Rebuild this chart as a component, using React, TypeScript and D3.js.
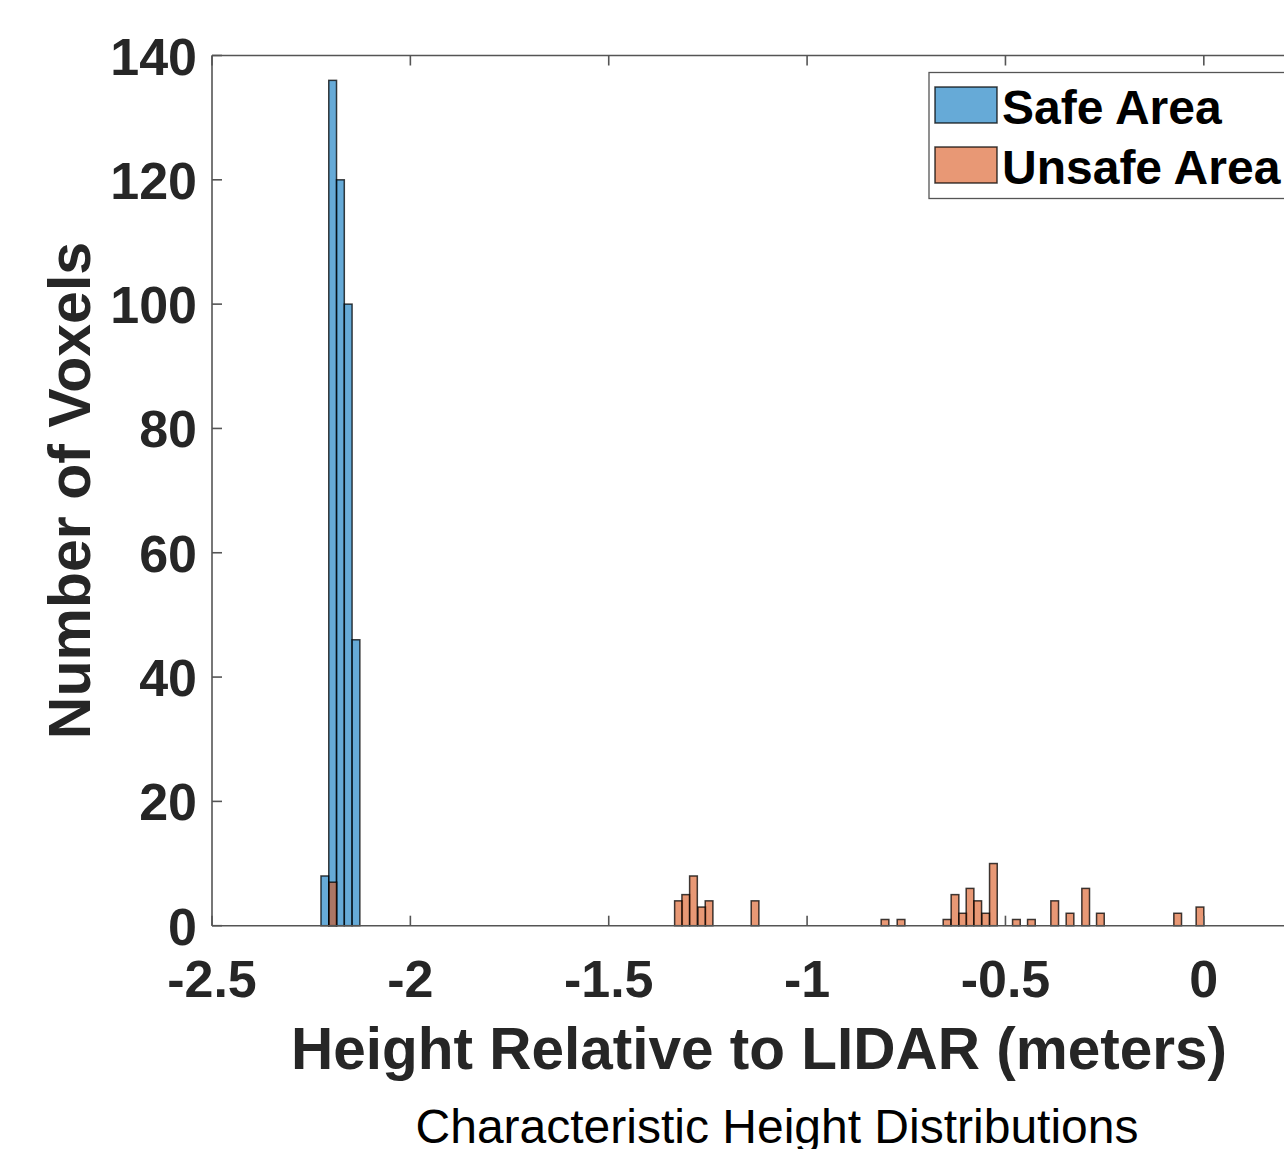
import React from "react";
import * as d3 from "d3";

// ---- data ----
const safeBinStart = [-2.2253, -2.2057, -2.1861, -2.1665, -2.1469];
const safeCounts = [8, 136, 120, 100, 46];
const safeBinWidth = 0.0196;

const unsafeBinStart = [
  -2.2051, -1.3339, -1.3155, -1.2961, -1.2752, -1.2568, -1.1409, -0.8133, -0.7729,
  -0.657, -0.6369, -0.6174, -0.599, -0.5796, -0.5595, -0.5401, -0.4821, -0.4443,
  -0.3856, -0.347, -0.3075, -0.2704, -0.0756, -0.0194,
];
const unsafeCounts = [
  7, 4, 5, 8, 3, 4, 4, 1, 1, 1, 5, 2, 6, 4, 2, 10, 1, 1, 4, 2, 6, 2, 2, 3,
];
const unsafeBinWidth = 0.0194;

const xTicks = [-2.5, -2, -1.5, -1, -0.5, 0];
const yTicks = [0, 20, 40, 60, 80, 100, 120, 140];
const legendLabels = ["Safe Area", "Unsafe Area"];
const xLabel = "Height Relative to LIDAR (meters)";
const yLabel = "Number of Voxels";
const title = "Characteristic Height Distributions";

const W = 1284;
const H = 1149;
const M = { left: 212, top: 55.5, right: 1303, bottom: 925.7 };

const blue = "rgb(0,114,189)";
const orange = "rgb(217,83,25)";
const font = "'Liberation Sans', Arial, Helvetica, sans-serif";
const axisColor = "#555";
const textColor = "#262626";

export default function App() {
  const x = d3.scaleLinear().domain([-2.5, 0.25]).range([M.left, M.right]);
  const y = d3.scaleLinear().domain([0, 140]).range([M.bottom, M.top]);

  const safe = safeBinStart.map((s, i) => ({ x0: s, x1: s + safeBinWidth, v: safeCounts[i] }));
  const unsafe = unsafeBinStart.map((s, i) => ({ x0: s, x1: s + unsafeBinWidth, v: unsafeCounts[i] }));

  const tickLen = 10;

  return (
    <svg
      width={W}
      height={H}
      style={{ position: "absolute", left: 0, top: 0, overflow: "hidden", background: "#fff" }}
    >
      <rect x={0} y={0} width={W} height={H} fill="#fff" />
      {/* bars */}
      <g>
        {safe.map((b, i) => (
          <rect
            key={"s" + i}
            x={x(b.x0)}
            y={y(b.v)}
            width={x(b.x1) - x(b.x0)}
            height={y(0) - y(b.v)}
            fill={blue}
            fillOpacity={0.6}
            stroke="#000"
            strokeOpacity={0.75}
            strokeWidth={1.5}
          />
        ))}
        {unsafe.map((b, i) => (
          <rect
            key={"u" + i}
            x={x(b.x0)}
            y={y(b.v)}
            width={x(b.x1) - x(b.x0)}
            height={y(0) - y(b.v)}
            fill={orange}
            fillOpacity={0.6}
            stroke="#000"
            strokeOpacity={0.75}
            strokeWidth={1.5}
          />
        ))}
      </g>
      {/* axes box */}
      <g stroke={axisColor} strokeWidth={1.6} fill="none">
        <line x1={M.left} x2={M.right} y1={M.bottom} y2={M.bottom} />
        <line x1={M.left} x2={M.right} y1={M.top} y2={M.top} />
        <line x1={M.left} x2={M.left} y1={M.top} y2={M.bottom} />
        {xTicks.map((t) => (
          <g key={"xt" + t}>
            <line x1={x(t)} x2={x(t)} y1={M.bottom} y2={M.bottom - tickLen} />
            <line x1={x(t)} x2={x(t)} y1={M.top} y2={M.top + tickLen} />
          </g>
        ))}
        {yTicks.map((t) => (
          <line key={"yt" + t} x1={M.left} x2={M.left + tickLen} y1={y(t)} y2={y(t)} />
        ))}
      </g>
      {/* tick labels */}
      <g fontFamily={font} fontWeight="bold" fontSize={52} fill={textColor}>
        {xTicks.map((t) => (
          <text key={"xl" + t} x={x(t)} y={997} textAnchor="middle">
            {String(t)}
          </text>
        ))}
        {yTicks.map((t) => (
          <text key={"yl" + t} x={197} y={y(t) + 19} textAnchor="end">
            {String(t)}
          </text>
        ))}
      </g>
      {/* axis labels */}
      <text
        x={759}
        y={1069}
        textAnchor="middle"
        fontFamily={font}
        fontWeight="bold"
        fontSize={58.5}
        fill={textColor}
      >
        {xLabel}
      </text>
      <text
        transform={`translate(90,490.5) rotate(-90)`}
        textAnchor="middle"
        fontFamily={font}
        fontWeight="bold"
        fontSize={59}
        fill={textColor}
      >
        {yLabel}
      </text>
      {/* title below */}
      <text x={777} y={1143} textAnchor="middle" fontFamily={font} fontSize={48} fill="#000">
        {title}
      </text>
      {/* legend */}
      <g>
        <rect x={929} y={72.5} width={370} height={126} fill="#fff" stroke={axisColor} strokeWidth={1.3} />
        {legendLabels.map((l, i) => (
          <g key={l}>
            <rect
              x={935}
              y={87 + i * 60}
              width={62}
              height={36}
              fill={i === 0 ? blue : orange}
              fillOpacity={0.6}
              stroke="#000"
              strokeOpacity={0.75}
              strokeWidth={1.5}
            />
            <text
              x={1002}
              y={123.5 + i * 60}
              fontFamily={font}
              fontWeight="bold"
              fontSize={48}
              fill="#000"
            >
              {l}
            </text>
          </g>
        ))}
      </g>
    </svg>
  );
}
